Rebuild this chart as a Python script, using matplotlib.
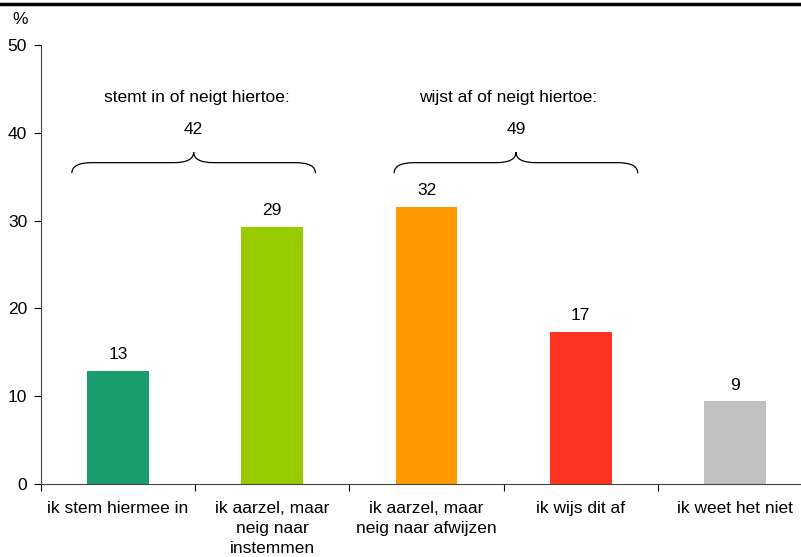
import numpy as np
import matplotlib.pyplot as plt
from matplotlib.path import Path
from matplotlib.patches import PathPatch
from matplotlib.lines import Line2D

plt.rcParams['font.family'] = ['Liberation Sans', 'DejaVu Sans']

categories = ['ik stem hiermee in', 'ik aarzel, maar\nneig naar\ninstemmen',
              'ik aarzel, maar\nneig naar afwijzen', 'ik wijs dit af', 'ik weet het niet']
values = [12.9, 29.3, 31.6, 17.3, 9.4]
labels = ['13', '29', '32', '17', '9']
colors = ['#1b9c6e', '#99cc00', '#ff9900', '#ff3322', '#c0c0c0']

groups = [(0, 1, 'stemt in of neigt hiertoe:', '42'),
          (2, 3, 'wijst af of neigt hiertoe:', '49')]
brace_pad = [(0.30, 0.28), (0.21, 0.37)]
title_dx = [0.02, -0.05]

FS = 12.5


def brace(ax, x0, x1, yb, yf, yt, r=0.13):
    xm = (x0 + x1) / 2
    verts = [(x0, yb), (x0, yf), (x0 + r, yf),
             (xm - r, yf),
             (xm, yf), (xm, yt),
             (xm, yf), (xm + r, yf),
             (x1 - r, yf),
             (x1, yf), (x1, yb)]
    codes = [Path.MOVETO, Path.CURVE3, Path.CURVE3,
             Path.LINETO,
             Path.CURVE3, Path.CURVE3,
             Path.CURVE3, Path.CURVE3,
             Path.LINETO,
             Path.CURVE3, Path.CURVE3]
    ax.add_patch(PathPatch(Path(verts, codes), fill=False, lw=0.9, ec='black'))


W, H = 801, 557
fig = plt.figure(figsize=(W / 100, H / 100), dpi=100)
ax = fig.add_axes([41 / W, (H - 484) / H, 771 / W, (484 - 45) / H])

x = np.arange(len(values))
ax.bar(x, values, width=0.4, color=colors)
for xi, v, lab in zip(x, values, labels):
    ax.text(xi, v + 1.0, lab, ha='center', va='bottom', fontsize=FS)

for (i0, i1, title, total), (pl, pr), dx in zip(groups, brace_pad, title_dx):
    x0, x1 = i0 - pl, i1 + pr
    brace(ax, x0, x1, 35.4, 36.6, 37.8)
    ax.text((x0 + x1) / 2, 40.4, total, ha='center', va='center', fontsize=FS)
    ax.text((x0 + x1) / 2 + dx, 44.0, title, ha='center', va='center', fontsize=FS)

ax.set_xlim(-0.5, 4.5)
ax.set_ylim(0, 50)
ax.set_yticks(range(0, 51, 10))
ax.set_xticks(np.arange(-0.5, 4.6, 1))
ax.set_xticklabels([])
ax.set_xticks(x, minor=True)
ax.set_xticklabels(categories, minor=True, fontsize=FS, linespacing=1.45)
ax.tick_params(axis='x', which='minor', length=0, pad=12)
ax.tick_params(axis='x', which='major', length=5, direction='out')
ax.tick_params(axis='y', length=5, direction='out', labelsize=FS, pad=5)
for s in ['top', 'right']:
    ax.spines[s].set_visible(False)
ax.spines['left'].set_color('#444444')
ax.spines['bottom'].set_color('#444444')

fig.text(12 / W, 1 - 20 / H, '%', fontsize=FS, va='center')
fig.add_artist(Line2D([0, 1], [1 - 4 / H, 1 - 4 / H], color='black', lw=2.5,
                      transform=fig.transFigure))

fig.savefig('out.png', dpi=100)
